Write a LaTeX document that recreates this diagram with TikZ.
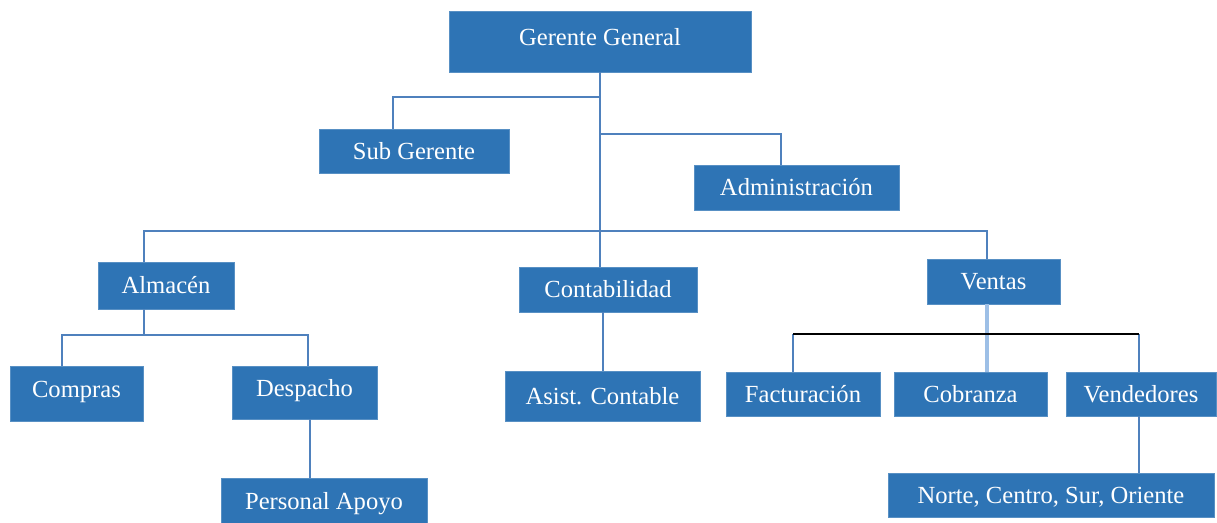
\documentclass[tikz,border=0pt]{standalone}
\usepackage{fontspec}
\setmainfont{Liberation Serif}
\definecolor{cajaazul}{HTML}{2E74B5}
\definecolor{lineaazul}{HTML}{4F81BD}
\definecolor{lineaclara}{HTML}{9DBFE6}

\begin{document}
\begin{tikzpicture}[x=0.02cm,y=-0.02cm,
  cargo/.style={draw=cajaazul!80!white,fill=cajaazul,text=white,inner sep=0pt,
    font=\fontsize{14}{16}\selectfont,text height=2ex,text depth=0ex},
  alto/.style={text depth=0.9ex},
  enlace/.style={draw=lineaazul,line width=1.1pt}]
  \useasboundingbox (0,0) rectangle (1217,522);
  \node[cargo,alto,minimum width=6.04cm,minimum height=1.22cm] (GG) at (600,41.5) {Gerente General};
  \node[cargo,minimum width=3.8cm,minimum height=0.88cm] (SG) at (414,151) {Sub Gerente};
  \node[cargo,minimum width=4.1cm,minimum height=0.9cm] (AD) at (796.5,187.5) {Administración};
  \node[cargo,minimum width=2.72cm,minimum height=0.94cm] (AL) at (166,285.5) {Almacén};
  \node[cargo,minimum width=3.56cm,minimum height=0.9cm] (CO) at (608,289.5) {Contabilidad};
  \node[cargo,minimum width=2.66cm,minimum height=0.9cm] (VE) at (993.5,281.5) {Ventas};
  \node[cargo,alto,minimum width=2.66cm,minimum height=1.1cm] (CP) at (76.5,393.5) {Compras};
  \node[cargo,alto,minimum width=2.9cm,minimum height=1.06cm] (DS) at (304.5,392.5) {Despacho};
  \node[cargo,minimum width=3.9cm,minimum height=1.0cm] (AC) at (602.5,396) {Asist. Contable};
  \node[cargo,minimum width=3.08cm,minimum height=0.88cm] (FA) at (803,394) {Facturación};
  \node[cargo,minimum width=3.06cm,minimum height=0.88cm] (CB) at (970.5,394) {Cobranza};
  \node[cargo,minimum width=3.0cm,minimum height=0.88cm] (VD) at (1141,394) {Vendedores};
  \node[cargo,minimum width=4.12cm,minimum height=0.9cm] (PA) at (324,501) {Personal Apoyo};
  \node[cargo,minimum width=6.52cm,minimum height=0.88cm] (NO) at (1051,495) {Norte, Centro, Sur, Oriente\hspace{0.4cm}};
  % ramas del gerente
  \coordinate (r1) at (600,97);
  \coordinate (r2) at (600,134);
  \coordinate (r3) at (600,231);
  \draw[enlace] (GG.south) -- (GG.south |- CO.north);
  \draw[enlace] (r1) -| ([xshift=-0.42cm]SG.north);
  \draw[enlace] (r2) -| ([xshift=-0.31cm]AD.north);
  \draw[enlace] ([xshift=-0.44cm]AL.north) |- (r3) -| ([xshift=-0.13cm]VE.north);
  % almacen
  \coordinate (r4) at (144,335);
  \draw[enlace] ([xshift=-0.44cm]AL.south) -- (r4);
  \draw[enlace] ([xshift=-0.29cm]CP.north) |- (r4) -| ([xshift=0.07cm]DS.north);
  \draw[enlace] ([xshift=0.11cm]DS.south) -- ([xshift=-0.28cm]PA.north);
  % contabilidad
  \draw[enlace] ([xshift=-0.1cm]CO.south) -- ([xshift=-0.1cm]CO.south |- AC.north);
  % ventas
  \coordinate (r5) at (987,334);
  \draw[enlace,draw=lineaclara,line width=1.8pt] ([xshift=-0.13cm]VE.south) -- ([xshift=-0.13cm]VE.south |- CB.north);
  \draw[enlace] ([xshift=-0.2cm]FA.north) -- ([xshift=-0.2cm]FA.north |- r5);
  \draw[enlace] ([xshift=-0.04cm]VD.north) -- ([xshift=-0.04cm]VD.north |- r5);
  \draw[black,line width=1.1pt] ([xshift=-0.2cm]FA.north |- r5) -- ([xshift=-0.04cm]VD.north |- r5);
  \draw[enlace] ([xshift=-0.04cm]VD.south) -- ([xshift=-0.04cm]VD.south |- NO.north);
\end{tikzpicture}
\end{document}
